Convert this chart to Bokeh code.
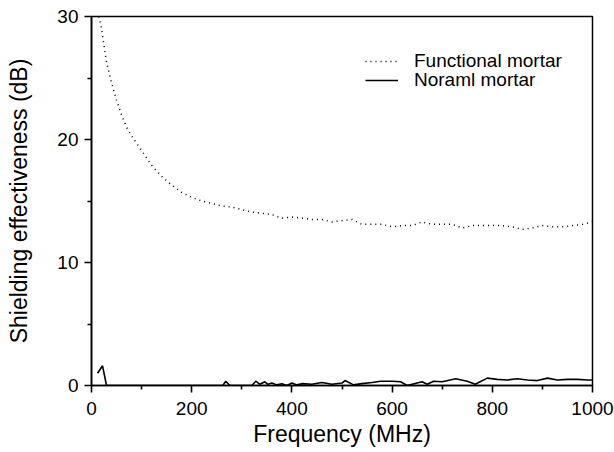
from bokeh.plotting import figure
from bokeh.models import Range1d, Legend, LegendItem, FixedTicker
from bokeh.embed import file_html
from bokeh.resources import INLINE

# Functional mortar (dotted)
func_x = [15, 20, 30, 40, 50, 60, 70, 80, 100, 120, 140, 160, 180, 200, 220, 240, 260,
          280, 300, 320, 340, 360, 380, 400, 420, 440, 460, 480, 500, 520, 540, 560,
          580, 600, 620, 640, 660, 680, 700, 720, 740, 760, 780, 800, 820, 840, 860,
          880, 900, 920, 940, 960, 980, 1000]
func_y = [30.0, 29.0, 26.3, 24.6, 23.2, 22.0, 21.0, 20.3, 19.1, 17.9, 17.0, 16.3, 15.7,
          15.3, 15.0, 14.8, 14.6, 14.5, 14.3, 14.1, 14.0, 13.9, 13.6, 13.7, 13.6, 13.5,
          13.5, 13.3, 13.4, 13.5, 13.1, 13.1, 13.1, 12.9, 13.0, 13.0, 13.3, 13.1, 13.1,
          13.1, 12.8, 13.0, 13.0, 13.0, 13.0, 12.9, 12.7, 12.8, 13.0, 12.9, 12.9, 13.0,
          13.1, 13.3]

# Noraml mortar (solid)
norm_x = [12, 22, 30, 60, 100, 150, 200, 250, 262, 268, 276, 300, 320, 328, 336, 346,
          352, 360, 370, 380, 390, 400, 410, 420, 440, 460, 480, 500, 506, 523, 540,
          560, 577, 600, 617, 630, 650, 660, 670, 683, 700, 727, 750, 766, 790, 810,
          830, 850, 870, 890, 910, 930, 950, 970, 990, 1000]
norm_y = [1.0, 1.6, 0.0, 0.0, 0.0, 0.0, 0.0, 0.0, 0.0, 0.35, 0.0, 0.0, 0.0, 0.35, 0.1,
          0.3, 0.1, 0.2, 0.05, 0.15, 0.0, 0.2, 0.05, 0.15, 0.1, 0.25, 0.1, 0.2, 0.4, 0.05,
          0.15, 0.25, 0.35, 0.35, 0.3, 0.0, 0.2, 0.3, 0.1, 0.35, 0.3, 0.55, 0.35, 0.1,
          0.6, 0.5, 0.45, 0.55, 0.45, 0.4, 0.6, 0.45, 0.5, 0.5, 0.45, 0.45]

x_ticks = [0, 200, 400, 600, 800, 1000]
x_minor = [100, 300, 500, 700, 900]
y_ticks = [0, 10, 20, 30]
y_minor = [5, 15, 25]

FONT = "Liberation Sans"

p = figure(width=614, height=450, output_backend="svg", toolbar_location=None,
           x_range=Range1d(0, 1000), y_range=Range1d(0, 30),
           min_border_left=91, min_border_right=22, min_border_top=16, min_border_bottom=65)
p.xgrid.visible = False
p.ygrid.visible = False
p.outline_line_color = "black"
p.outline_line_width = 1.5
p.background_fill_color = "white"
p.border_fill_color = "white"

r1 = p.line(func_x, func_y, line_color="black", line_width=1.5, line_dash="1 4")
r2 = p.line(norm_x, norm_y, line_color="black", line_width=1.6)

p.xaxis[0].ticker = FixedTicker(ticks=x_ticks, minor_ticks=x_minor)
p.yaxis[0].ticker = FixedTicker(ticks=y_ticks, minor_ticks=y_minor)

for ax in (p.xaxis[0], p.yaxis[0]):
    ax.axis_line_width = 1.6
    ax.major_tick_line_width = 1.6
    ax.minor_tick_line_width = 1.6
    ax.major_tick_in = 0
    ax.major_tick_out = 7
    ax.minor_tick_in = 0
    ax.minor_tick_out = 4
    ax.major_label_text_font = FONT
    ax.major_label_text_font_size = "19px"
    ax.major_label_text_color = "black"
    ax.axis_label_text_font = FONT
    ax.axis_label_text_font_size = "23px"
    ax.axis_label_text_font_style = "normal"
    ax.axis_label_text_color = "black"

p.xaxis[0].axis_label = "Frequency (MHz)"
p.yaxis[0].axis_label = "Shielding effectiveness (dB)"
p.xaxis[0].major_label_standoff = 9
p.yaxis[0].major_label_standoff = 6
p.xaxis[0].axis_label_standoff = 3
p.yaxis[0].axis_label_standoff = 22

common = dict(padding=0, margin=0, spacing=0, glyph_width=33, glyph_height=24,
              label_height=24, label_standoff=16, label_text_font=FONT,
              label_text_font_size="19px", label_text_color="black",
              border_line_color=None, background_fill_alpha=0)
leg1 = Legend(items=[LegendItem(label="Functional mortar", renderers=[r1])],
              location=(274, 312), **common)
leg2 = Legend(items=[LegendItem(label="Noraml mortar", renderers=[r2])],
              location=(274, 293), **common)
p.add_layout(leg1)
p.add_layout(leg2)

open("out.html", "w").write(file_html(p, INLINE))
